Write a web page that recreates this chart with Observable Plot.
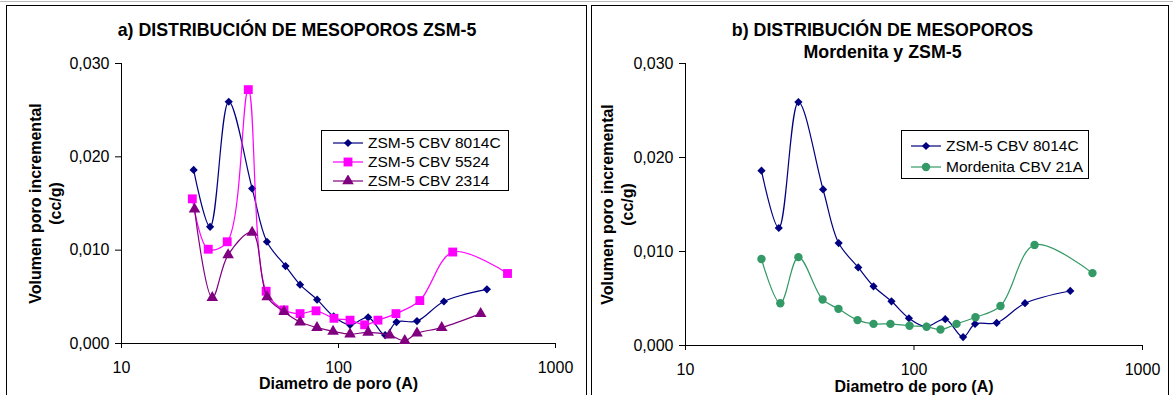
<!DOCTYPE html>
<html><head><meta charset="utf-8">
<script src="https://cdn.jsdelivr.net/npm/d3@7"></script>
<script src="https://cdn.jsdelivr.net/npm/@observablehq/plot@0.6"></script>
<style>
body{margin:0;background:#fff;font-family:Arial,"Liberation Sans",sans-serif;color:#000;}
#page{position:relative;width:1173px;height:395px;overflow:hidden;background:#fff;}
.frame{position:absolute;border:1.3px solid #000;box-sizing:border-box;}
.title{position:absolute;font-weight:bold;font-size:17.8px;text-align:center;line-height:22px;white-space:nowrap;}
.legend{position:absolute;border:1px solid #000;background:#fff;box-sizing:border-box;font-size:15.5px;}
.legend .row{display:flex;align-items:center;white-space:nowrap;}
.plot{position:absolute;top:0;}
.topline{position:absolute;left:0;top:1px;width:1173px;height:1px;background:#bbb;}
</style></head>
<body><div id="page">
<div class="topline"></div>
<div class="frame" style="left:6px;top:5px;width:581px;height:400px;"></div>
<div class="frame" style="left:591px;top:5px;width:578px;height:400px;"></div>
<div class="title" style="left:0px;top:19px;width:594px;">a) DISTRIBUCIÓN DE MESOPOROS ZSM-5</div>
<div class="title" style="left:582px;top:19px;width:601px;">b) DISTRIBUCIÓN DE MESOPOROS<br>Mordenita y ZSM-5</div>
</div>
<script>
// ---- data ----
const diamZSM8014 = [21.5, 25.6, 31.2, 40, 46.8, 57, 66.5, 79.7, 95, 113, 137, 164, 185, 230, 306, 483];
const volZSM8014  = [0.0186, 0.0125, 0.0259, 0.0166, 0.0109, 0.0083, 0.0063, 0.0047, 0.0029, 0.0020, 0.0028, 0.0009, 0.0023, 0.0024, 0.0045, 0.0058];
const diamZSM5524 = [21.2, 25.1, 30.7, 38.4, 46.4, 56.1, 66.5, 78.8, 95.3, 113, 132, 152, 184, 237, 336, 601];
const volZSM5524  = [0.0155, 0.0101, 0.0109, 0.0272, 0.0056, 0.0036, 0.0032, 0.0035, 0.0027, 0.0025, 0.0020, 0.0025, 0.0032, 0.0046, 0.0098, 0.0075];
const diamZSM2314 = [21.7, 26.2, 31.0, 40.0, 46.9, 56.1, 66.5, 79.6, 94.4, 113, 137, 172, 202, 230, 299, 452];
const volZSM2314  = [0.0144, 0.0049, 0.0095, 0.0119, 0.0050, 0.0034, 0.0023, 0.0017, 0.0013, 0.0010, 0.0012, 0.0009, 0.0003, 0.0011, 0.0017, 0.0032];
const diamMOR21A  = [21.5, 26.0, 31.2, 39.8, 46.7, 56.6, 66.5, 78.9, 95.6, 113.5, 130.6, 153.5, 185.8, 239, 337, 604];
const volMOR21A   = [0.0092, 0.0045, 0.0094, 0.0049, 0.0039, 0.0027, 0.0023, 0.0023, 0.0021, 0.0020, 0.0017, 0.0023, 0.0030, 0.0042, 0.0107, 0.0077];

const xTicks = [10, 100, 1000];
const yTicks = [0, 0.01, 0.02, 0.03];
const yLabel = "Volumen poro incremental\n(cc/g)";
const xLabel = "Diametro de poro (A)";

const S8014 = {name: "ZSM-5 CBV 8014C", x: diamZSM8014, y: volZSM8014, color: "#000080", symbol: "diamond2", r: 3.7};
const S5524 = {name: "ZSM-5 CBV 5524", x: diamZSM5524, y: volZSM5524, color: "#FF00FF", symbol: "square", r: 5};
const S2314 = {name: "ZSM-5 CBV 2314", x: diamZSM2314, y: volZSM2314, color: "#800080", symbol: "triangle", r: 4.3};
const SMOR  = {name: "Mordenita CBV 21A", x: diamMOR21A, y: volMOR21A, color: "#339966", symbol: "circle", r: 4.2};

function panel(series, g) {
  const marks = [];
  for (const s of series) {
    const data = s.x.map((x, i) => ({d: x, v: s.y[i]}));
    marks.push(Plot.line(data, {x: "d", y: "v", stroke: s.color, strokeWidth: 1.2, curve: "catmull-rom"}));
    marks.push(Plot.dot(data, {x: "d", y: "v", fill: s.color, symbol: s.symbol, r: s.r, stroke: "none"}));
  }
  marks.push(Plot.text([yLabel], {frameAnchor: "left", rotate: -90, dx: g.ydx, textAnchor: "middle", lineAnchor: "middle", lineHeight: 1.25, fontWeight: "bold", fontSize: 16}));
  marks.push(Plot.text([xLabel], {frameAnchor: "bottom", dy: g.xdy, textAnchor: "middle", lineAnchor: "middle", fontWeight: "bold", fontSize: 16}));
  const svg = Plot.plot({
    width: g.width, height: 395,
    marginLeft: g.ml, marginRight: g.mr, marginTop: 63, marginBottom: g.mb,
    style: {fontSize: "16px", fontFamily: "Arial, 'Liberation Sans', sans-serif", color: "#000", background: "transparent", overflow: "visible"},
    x: {type: "log", domain: [10, 1000], ticks: xTicks, tickFormat: d => String(d), tickSize: 5, tickPadding: 13, line: true, label: null},
    y: {domain: [0, 0.03], ticks: yTicks, tickFormat: d => d.toFixed(3).replace(".", ","), tickSize: 6, tickPadding: 6, line: true, label: null},
    marks
  });
  svg.classList.add("plot");
  svg.style.left = g.left + "px";
  document.getElementById("page").appendChild(svg);
}

function legend(series, g) {
  const box = document.createElement("div");
  box.className = "legend";
  Object.assign(box.style, {left: g.left + "px", top: g.top + "px", width: g.width + "px", height: g.height + "px", paddingTop: g.pad + "px"});
  for (const s of series) {
    const row = document.createElement("div");
    row.className = "row";
    row.style.height = g.rowH + "px";
    const sw = d3.create("svg").attr("width", 30).attr("height", 12).style("margin-left", g.swx + "px").style("flex", "none");
    sw.append("line").attr("x1", 0).attr("x2", 30).attr("y1", 6).attr("y2", 6).attr("stroke", s.color).attr("stroke-width", 1.2);
    const sym = {diamond2: d3.symbolDiamond2, square: d3.symbolSquare, triangle: d3.symbolTriangle, circle: d3.symbolCircle}[s.symbol];
    sw.append("path").attr("transform", "translate(15,6)").attr("d", d3.symbol(sym, s.r * s.r * Math.PI)()).attr("fill", s.color);
    row.appendChild(sw.node());
    const t = document.createElement("span");
    t.textContent = s.name;
    t.style.marginLeft = g.tx + "px";
    row.appendChild(t);
    box.appendChild(row);
  }
  document.getElementById("page").appendChild(box);
}

panel([S8014, S5524, S2314], {left: 7, width: 578, ml: 114, mr: 30, mb: 52, ydx: -77, xdy: 40});
panel([S8014, SMOR], {left: 593, width: 575, ml: 92, mr: 26, mb: 50, ydx: -69, xdy: 41});
legend([S8014, S5524, S2314], {left: 321, top: 130, width: 188, height: 61, rowH: 19, pad: 2, swx: 11, tx: 5});
legend([S8014, SMOR], {left: 901, top: 130, width: 188, height: 49, rowH: 21, pad: 4, swx: 9, tx: 5});
</script>
</body></html>
